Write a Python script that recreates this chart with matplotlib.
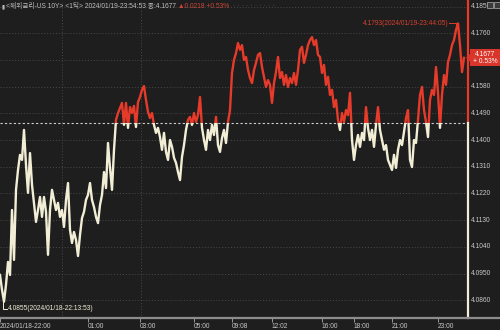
import numpy as np
import matplotlib
matplotlib.use("Agg")
import matplotlib.pyplot as plt
from matplotlib.patches import Rectangle, Polygon
from matplotlib.lines import Line2D

# ---------------- data ----------------
prices = [
    4.0945, 4.0895, 4.0855, 4.0912, 4.0989, 4.0945, 4.1164, 4.0996, 4.1232, 4.1299,
    4.1350, 4.1333, 4.1434, 4.1316, 4.1222, 4.1356, 4.1249, 4.1188, 4.1124, 4.1164,
    4.1208, 4.1141, 4.1208, 4.1158, 4.1013, 4.1164, 4.1232, 4.1198, 4.1164, 4.1188,
    4.1141, 4.1164, 4.1107, 4.1198, 4.1255, 4.1097, 4.1053, 4.1090, 4.1063, 4.1009,
    4.1080, 4.1137, 4.1158, 4.1198, 4.1215, 4.1255, 4.1198, 4.1174, 4.1141, 4.1120,
    4.1181, 4.1215, 4.1292, 4.1238, 4.1390, 4.1306, 4.1232, 4.1367, 4.1468, 4.1491,
    4.1508, 4.1525, 4.1451, 4.1525, 4.1441, 4.1511, 4.1491, 4.1515, 4.1444, 4.1528,
    4.1545, 4.1569, 4.1582, 4.1535, 4.1495, 4.1474, 4.1491, 4.1451, 4.1424, 4.1441,
    4.1410, 4.1367, 4.1424, 4.1360, 4.1333, 4.1400, 4.1377, 4.1340, 4.1323, 4.1292,
    4.1265, 4.1343, 4.1383, 4.1434, 4.1468, 4.1478, 4.1451, 4.1491, 4.1461, 4.1484,
    4.1545, 4.1441, 4.1400, 4.1367, 4.1434, 4.1400, 4.1451, 4.1417, 4.1478, 4.1383,
    4.1360, 4.1407, 4.1434, 4.1390, 4.1461, 4.1501, 4.1626, 4.1670, 4.1693, 4.1727,
    4.1704, 4.1720, 4.1670, 4.1680, 4.1636, 4.1609, 4.1592, 4.1636, 4.1660, 4.1687,
    4.1693, 4.1646, 4.1613, 4.1579, 4.1602, 4.1586, 4.1525, 4.1592, 4.1629, 4.1680,
    4.1609, 4.1629, 4.1586, 4.1619, 4.1579, 4.1609, 4.1592, 4.1626, 4.1586, 4.1636,
    4.1704, 4.1714, 4.1660, 4.1687, 4.1720, 4.1737, 4.1747, 4.1720, 4.1737, 4.1687,
    4.1680, 4.1626, 4.1653, 4.1586, 4.1613, 4.1552, 4.1569, 4.1511, 4.1535, 4.1468,
    4.1434, 4.1491, 4.1461, 4.1501, 4.1484, 4.1559, 4.1400, 4.1333, 4.1383, 4.1417,
    4.1377, 4.1424, 4.1400, 4.1511, 4.1441, 4.1400, 4.1434, 4.1377, 4.1451, 4.1511,
    4.1434, 4.1400, 4.1367, 4.1383, 4.1333, 4.1316, 4.1299, 4.1350, 4.1306, 4.1367,
    4.1400, 4.1383, 4.1427, 4.1474, 4.1501, 4.1333, 4.1309, 4.1400, 4.1390, 4.1468,
    4.1552, 4.1579, 4.1501, 4.1461, 4.1410, 4.1535, 4.1569, 4.1552, 4.1646, 4.1559,
    4.1441, 4.1552, 4.1619, 4.1586, 4.1663, 4.1687, 4.1720, 4.1737, 4.1771, 4.1793,
    4.1720, 4.1629, 4.1677,
]
prev_close = 4.1459
last_price = 4.1677
change = 0.0218
change_pct = 0.53
high_price = 4.1793
high_time = "2024/01/19-23:44:05"
low_price = 4.0855
low_time = "2024/01/18-22:13:53"

y_ticks = [4.0860, 4.0950, 4.1040, 4.1130, 4.1220, 4.1310, 4.1400,
           4.1490, 4.1580, 4.1670, 4.1760, 4.1850]
x_tick_index = [0, 44, 70, 97, 116, 136, 161, 177, 196, 219]
x_tick_labels = ["2024/01/18-22:00", "01:00", "03:00", "05:00", "09:08",
                 "12:02", "16:00", "18:00", "21:00", "23:00"]
grid_index = [31, 70.5]
title_main = "<해외금리-US 10Y> <1틱> 2024/01/19-23:54:53 종:4.1677"

# ---------------- style ----------------
BG = "#1e1e1e"
RED = "#e63b2a"
CREAM = "#f2eed6"
GRID = "#4a4a4a"
LABEL = "#c8c8c8"
FAM = ["Liberation Sans", "Noto Sans CJK KR", "DejaVu Sans"]
plt.rcParams["font.family"] = FAM
FS = 4.8

W, H = 500, 330
fig = plt.figure(figsize=(W / 100, H / 100), dpi=100, facecolor=BG)
ax = fig.add_axes([0, 12 / H, 468 / W, 318 / H])
ax.set_facecolor(BG)
n = len(prices)
x = np.arange(n)
ax.set_xlim(0, 234)
ax.set_ylim(4.0800, 4.1872)
for s in ax.spines.values():
    s.set_visible(False)

# grid
for v in y_ticks:
    ax.axhline(v, color=GRID, lw=0.7, ls=(0, (1, 2)), zorder=1)
for g in grid_index:
    ax.axvline(g, color=GRID, lw=0.7, ls=(0, (1, 2)), zorder=1)

# reference line
ax.axhline(prev_close, color="#d0d0d0", lw=0.8, ls=(0, (2, 2)), zorder=2)

# price line, red above previous close, cream below
l_up, = ax.plot(x, prices, color=RED, lw=1.7, zorder=3)
l_dn, = ax.plot(x, prices, color=CREAM, lw=1.7, zorder=3)
clip_up = Rectangle((-10, prev_close), 300, 1, transform=ax.transData)
clip_dn = Rectangle((-10, prev_close - 1), 300, 1, transform=ax.transData)
l_up.set_clip_path(clip_up)
l_dn.set_clip_path(clip_dn)

# right axis line
ylo, yhi = ax.get_ylim()
ax.plot([233.8, 233.8], [prev_close, yhi], color=RED, lw=1.6, clip_on=False, zorder=4)
ax.plot([233.8, 233.8], [ylo, prev_close], color=CREAM, lw=1.6, clip_on=False, zorder=4)

# y labels (the one under the last-price box is hidden, as in the reference)
for v in y_ticks:
    if abs(v - last_price) < 0.0025:
        continue
    ax.text(1.006, v, f"{v:.4f}", transform=ax.get_yaxis_transform(),
            color=LABEL, fontsize=FS, va="center", ha="left", clip_on=False)

# bottom axis line
fig.add_artist(Line2D([0, 1], [12 / H, 12 / H], transform=fig.transFigure,
                      color="#8c8c8c", lw=1.6))

# x ticks
ax.set_xticks(x_tick_index)
ax.set_xticklabels(x_tick_labels, ha="left", fontsize=FS, color=LABEL)
ax.tick_params(axis="x", direction="out", length=3, width=0.7, color="#9a9a9a", pad=0.5)
ax.tick_params(axis="y", left=False, labelleft=False)

# high annotation
hi_idx = int(np.argmax(prices))
ax.text(hi_idx - 4.6, high_price, f"{high_price:.4f}({high_time})",
        color="#d8402e", fontsize=FS, ha="right", va="center")
ax.plot([hi_idx - 4.3, hi_idx - 1, hi_idx - 1],
        [high_price, high_price, high_price - 0.0012], color="#d8402e", lw=0.7)

# low annotation
lo_idx = int(np.argmin(prices))
lo_text_y = low_price - 0.0023
ax.plot([lo_idx - 0.6, lo_idx - 0.6, lo_idx + 1.6],
        [low_price, lo_text_y, lo_text_y], color=CREAM, lw=0.7, zorder=4)
ax.text(lo_idx + 1.8, lo_text_y, f"{low_price:.4f}({low_time})",
        color=CREAM, fontsize=FS, ha="left", va="center")

# last price box
box_y = ax.transData.transform((0, last_price))[1]  # display px
yc = box_y / H
fig.add_artist(Rectangle((470 / W, yc - 8.5 / H), 30 / W, 17 / H,
                         transform=fig.transFigure, facecolor="#d9352a",
                         edgecolor="none", zorder=5))
fig.add_artist(Polygon([(466 / W, yc), (470 / W, yc + 4 / H), (470 / W, yc - 4 / H)],
                       closed=True, transform=fig.transFigure,
                       facecolor="#d9352a", edgecolor="none", zorder=5))
fig.text(485 / W, yc, f"{last_price:.4f}\n+ {change_pct:.2f}%", color="white",
         fontsize=FS, ha="center", va="center", linespacing=1.05, zorder=6)

# title
fig.text(2 / W, 1 - 6.5 / H, "▮", color="#bdbdbd", fontsize=4.0, va="center", ha="left")
t_main = fig.text(6 / W, 1 - 6.5 / H, title_main, color="#bdbdbd", fontsize=4.8,
                  va="center", ha="left")
t_chg = ax.annotate(f"▲{change:.4f} +{change_pct:.2f}%", xy=(1, 0.5), xycoords=t_main,
                    xytext=(1.5, 0), textcoords="offset points", color="#c9463a",
                    fontsize=4.8, va="center", ha="left", annotation_clip=False)
ax.annotate("· · · · · · · · · ·", xy=(1, 0.5), xycoords=t_chg, xytext=(3, 0),
            textcoords="offset points", color="#555555", fontsize=5,
            va="center", ha="left", annotation_clip=False)

# window icons top-right
for xi in (487, 494):
    fig.add_artist(Rectangle((xi / W, 1 - 8 / H), 5.5 / W, 6.5 / H,
                             transform=fig.transFigure, facecolor="#3a3a3a",
                             edgecolor="#9a9a9a", lw=0.6, zorder=5))

fig.savefig("out.png", dpi=100, facecolor=BG)
